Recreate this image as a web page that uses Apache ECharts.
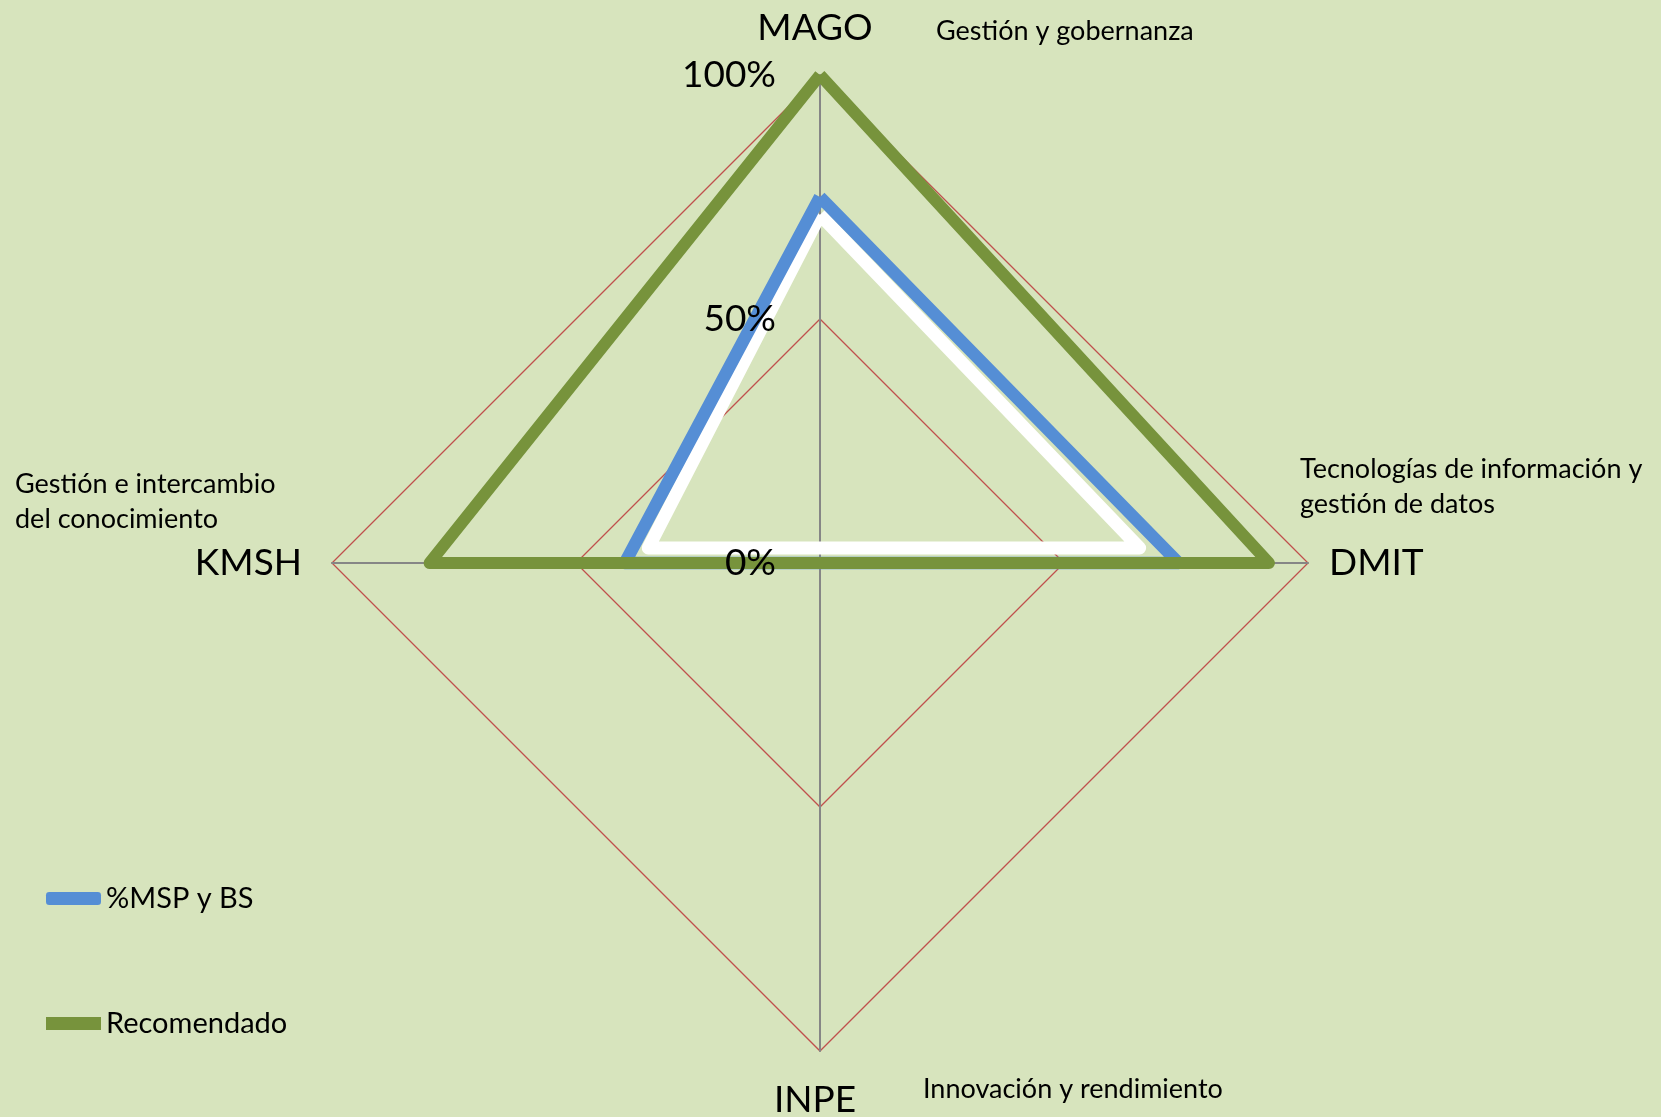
<!DOCTYPE html>
<html>
<head>
<meta charset="utf-8">
<script src="https://cdn.jsdelivr.net/npm/echarts@6/dist/echarts.min.js"></script>
<style>
html,body{margin:0;padding:0;background:#D7E4BD;}
#chart{width:1661px;height:1117px;}
</style>
</head>
<body>
<div id="chart"></div>
<script>
// Indicator order follows ECharts radar (counter-clockwise from top)
const indicators = ['MAGO', 'KMSH', 'INPE', 'DMIT'];
const descriptions = {
  MAGO: 'Gestión y gobernanza',
  KMSH: 'Gestión e intercambio\ndel conocimiento',
  INPE: 'Innovación y rendimiento',
  DMIT: 'Tecnologías de información y\ngestión de datos'
};
const seriesNames = ['%MSP y BS', 'Recomendado'];
const mspValues = [0.75, 0.40, 0, 0.735];
const recomendadoValues = [1.0, 0.80, 0, 0.92];
// white inner highlight of the %MSP y BS polygon (visual effect in the original)
const highlightValues = [0.683, 0.352, 0, 0.655];
const tickLabels = ['0%', '50%', '100%'];

const FONT = 'Lato, "Open Sans", sans-serif';
const CENTER = [820, 563];
const RADIUS = 488;
const nameGaps = { MAGO: 28, KMSH: 20, INPE: 31, DMIT: 21 };

const chart = echarts.init(document.getElementById('chart'));

function hiddenRadar(center, z, withLabels) {
  return {
    center: center,
    radius: RADIUS,
    startAngle: 90,
    shape: 'polygon',
    splitNumber: 2,
    silent: true,
    z: z,
    indicator: indicators.map((n, i) => {
      const ind = { name: n, min: 0, max: 1 };
      if (withLabels && i === 0) {
        ind.axisLabel = {
          show: true,
          fontSize: 37,
          color: '#000',
          margin: 44,
          fontFamily: FONT,
          formatter: function (v) {
            const idx = Math.round(v * 2);
            return tickLabels[idx] !== undefined ? tickLabels[idx] : '';
          }
        };
      }
      return ind;
    }),
    axisName: { show: false },
    axisLine: { show: false },
    splitLine: { show: false },
    splitArea: { show: false },
    axisTick: { show: false },
    axisLabel: { show: false }
  };
}

const option = {
  backgroundColor: '#D7E4BD',
  animation: false,
  textStyle: { fontFamily: FONT },
  legend: {
    orient: 'vertical',
    left: 41,
    top: 879,
    itemWidth: 55,
    itemHeight: 13,
    itemGap: 96,
    textStyle: { fontSize: 29, color: '#000', fontFamily: FONT },
    data: [
      { name: seriesNames[0], icon: 'roundRect', itemStyle: { color: '#558ED5' } },
      { name: seriesNames[1], icon: 'rect', itemStyle: { color: '#77933C' } }
    ]
  },
  radar: [
    {
      center: CENTER,
      radius: RADIUS,
      startAngle: 90,
      shape: 'polygon',
      splitNumber: 2,
      z: 0,
      indicator: indicators.map(n => ({ name: n, min: 0, max: 1, nameGap: nameGaps[n] })),
      axisName: { color: '#000', fontSize: 37, fontFamily: FONT, padding: [0, 10, 0, 0] },
      nameGap: 24,
      axisLine: { lineStyle: { color: '#868686', width: 2 } },
      splitLine: { lineStyle: { color: '#C0504D', width: 1.3 } },
      splitArea: { show: false },
      axisTick: { show: false },
      axisLabel: { show: false }
    },
    hiddenRadar([CENTER[0], CENTER[1] - 15], 0, false),
    hiddenRadar(CENTER, 10, true)
  ],
  series: [
    {
      type: 'radar',
      radarIndex: 1,
      name: 'highlight',
      silent: true,
      symbol: 'none',
      z: 1,
      lineStyle: { color: '#FFFFFF', width: 13, join: 'round' },
      data: [{ value: highlightValues, name: 'highlight' }]
    },
    {
      type: 'radar',
      radarIndex: 0,
      name: seriesNames[0],
      symbol: 'none',
      z: 2,
      itemStyle: { color: '#558ED5' },
      lineStyle: { color: '#558ED5', width: 12.5, join: 'round' },
      data: [{ value: mspValues, name: seriesNames[0] }]
    },
    {
      type: 'radar',
      radarIndex: 0,
      name: seriesNames[1],
      symbol: 'none',
      z: 3,
      itemStyle: { color: '#77933C' },
      lineStyle: { color: '#77933C', width: 12, join: 'round' },
      data: [{ value: recomendadoValues, name: seriesNames[1] }]
    }
  ],
  graphic: [
    { type: 'text', x: 936, y: 31, style: { text: descriptions.MAGO, font: '27px ' + FONT, fill: '#000', verticalAlign: 'middle' } },
    { type: 'text', x: 1300, y: 487, style: { text: descriptions.DMIT, font: '27px ' + FONT, fill: '#000', lineHeight: 35, verticalAlign: 'middle' } },
    { type: 'text', x: 15, y: 502, style: { text: descriptions.KMSH, font: '27px ' + FONT, fill: '#000', lineHeight: 35, verticalAlign: 'middle' } },
    { type: 'text', x: 923, y: 1089, style: { text: descriptions.INPE, font: '27px ' + FONT, fill: '#000', verticalAlign: 'middle' } }
  ]
};
chart.setOption(option);
</script>
</body>
</html>
